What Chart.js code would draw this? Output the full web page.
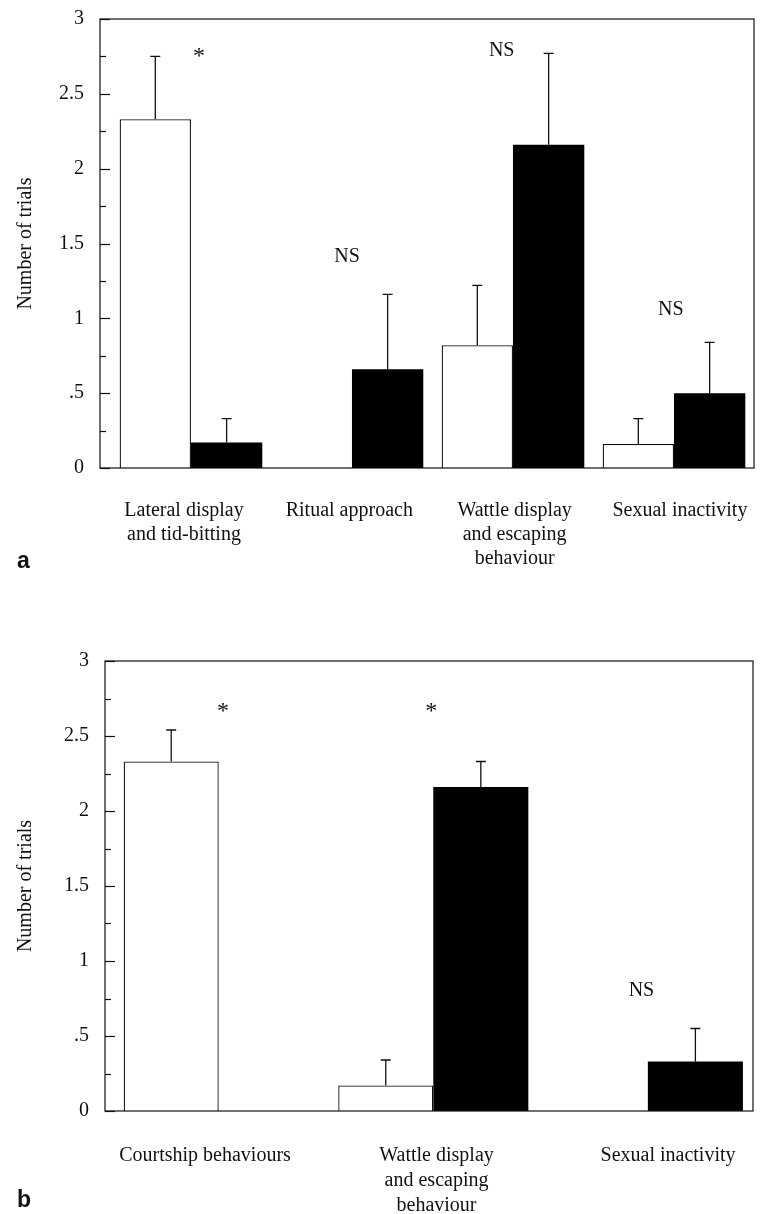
<!DOCTYPE html>
<html>
<head>
<meta charset="utf-8">
<script src="https://cdn.jsdelivr.net/npm/chart.js@4"></script>
<style>
  html, body { margin: 0; padding: 0; background: #fff; }
  #wrap { position: relative; width: 764px; height: 1214px; }
  canvas { position: absolute; left: 0; }
</style>
</head>
<body>
<div id="wrap">
  <canvas id="chartA" width="764" height="580" style="top:0"></canvas>
  <canvas id="chartB" width="764" height="634" style="top:580px"></canvas>
</div>
<script>
// y axis tick labels (every 0.5)
var yTickLabels = ['0', '.5', '1', '1.5', '2', '2.5', '3'];

// panel a
var labelsA = [['Lateral display', 'and tid-bitting'], 'Ritual approach', ['Wattle display', 'and escaping', 'behaviour'], 'Sexual inactivity'];
var whiteA = [2.33, 0, 0.82, 0.16];
var whiteErrA = [0.42, null, 0.40, 0.17];
var blackA = [0.17, 0.66, 2.16, 0.50];
var blackErrA = [0.16, 0.50, 0.61, 0.34];
var marksA = ['*', 'NS', 'NS', 'NS'];
var markXA = [0.05, 0.97, 1.93, 2.98];
var markYA = [2.77, 1.41, 2.79, 1.06];

// panel b
var labelsB = ['Courtship behaviours', ['Wattle display', 'and escaping', 'behaviour'], 'Sexual inactivity'];
var whiteB = [2.33, 0.17, 0];
var whiteErrB = [0.21, 0.17, null];
var blackB = [0, 2.16, 0.33];
var blackErrB = [null, 0.17, 0.22];
var marksB = ['*', '*', 'NS'];
var markXB = [0.02, 0.99, 1.97];
var markYB = [2.68, 2.68, 0.80];

var serif = '"Liberation Serif", "Times New Roman", serif';
var ink = '#111';

function isStep(v, step) {
  return Math.abs(v / step - Math.round(v / step)) < 1e-6;
}

// one tick per category, so bars and labels sit on whole numbers
function categoryTicks(n) {
  return function(s) {
    var t = [];
    for (var i = 0; i < n; i++) t.push({ value: i });
    s.ticks = t;
  };
}

var decor = {
  id: 'decor',
  afterDatasetsDraw: function(chart, args, opts) {
    var ctx = chart.ctx;
    var area = chart.chartArea;
    var y = chart.scales.y;
    var x = chart.scales.x;
    ctx.save();
    ctx.strokeStyle = ink;
    ctx.lineWidth = 1.3;

    // upper error bars
    chart.data.datasets.forEach(function(ds, di) {
      var meta = chart.getDatasetMeta(di);
      ds.errors.forEach(function(e, i) {
        if (e == null) return;
        var bar = meta.data[i];
        var top = y.getPixelForValue(ds.data[i].y + e);
        ctx.beginPath();
        ctx.moveTo(bar.x, bar.y);
        ctx.lineTo(bar.x, top);
        ctx.moveTo(bar.x - 5, top);
        ctx.lineTo(bar.x + 5, top);
        ctx.stroke();
      });
    });

    // frame
    ctx.lineWidth = 1.2;
    ctx.strokeRect(area.left, area.top, area.right - area.left, area.bottom - area.top);

    // inward ticks on the y axis
    y.ticks.forEach(function(t) {
      var py = Math.round(y.getPixelForValue(t.value)) + 0.5;
      var len = isStep(t.value, 0.5) ? 10 : 6;
      ctx.beginPath();
      ctx.moveTo(area.left, py);
      ctx.lineTo(area.left + len, py);
      ctx.stroke();
    });

    // significance marks
    ctx.fillStyle = ink;
    ctx.textAlign = 'center';
    ctx.textBaseline = 'middle';
    opts.marks.forEach(function(m, i) {
      ctx.font = (m === '*' ? '24px ' : '20px ') + serif;
      var py = y.getPixelForValue(opts.markY[i]) + (m === '*' ? 3 : 0);
      ctx.fillText(m, x.getPixelForValue(opts.markX[i]), py);
    });

    // panel letter
    ctx.font = 'bold 23px "Liberation Sans", Arial, sans-serif';
    ctx.textAlign = 'left';
    ctx.textBaseline = 'alphabetic';
    ctx.fillText(opts.letter, 17, opts.letterY);
    ctx.restore();
  }
};

function buildChart(id, p) {
  function points(vals) {
    return vals.map(function(v, i) { return { x: i, y: v }; });
  }
  return new Chart(document.getElementById(id), {
    type: 'bar',
    data: {
      datasets: [
        {
          label: 'white',
          data: points(p.white),
          errors: p.whiteErr,
          backgroundColor: '#fff',
          borderColor: ink,
          borderWidth: 1.3,
          borderSkipped: 'start'
        },
        {
          label: 'black',
          data: points(p.black),
          errors: p.blackErr,
          backgroundColor: '#000',
          borderWidth: 0
        }
      ]
    },
    options: {
      responsive: false,
      animation: false,
      devicePixelRatio: 1,
      layout: { padding: p.pad },
      datasets: { bar: { categoryPercentage: 0.886, barPercentage: 1 } },
      plugins: {
        legend: { display: false },
        tooltip: { enabled: false },
        decor: { marks: p.marks, markX: p.markX, markY: p.markY, letter: p.letter, letterY: p.letterY }
      },
      scales: {
        x: {
          type: 'linear',
          display: false,
          offset: false,
          grid: { offset: false },
          min: p.barMin,
          max: p.barMax,
          afterBuildTicks: categoryTicks(p.labels.length)
        },
        xl: {
          type: 'linear',
          position: 'bottom',
          offset: false,
          min: p.labelMin,
          max: p.labelMax,
          grid: { display: false, drawTicks: false },
          border: { display: false },
          afterBuildTicks: categoryTicks(p.labels.length),
          ticks: {
            autoSkip: false,
            maxRotation: 0,
            padding: p.labelPad,
            color: ink,
            font: { family: serif, size: 20, lineHeight: p.lineH },
            callback: function(v) {
              return p.labels[Math.round(v)];
            }
          },
          afterFit: function(s) {
            s.height = p.xlHeight;
            s.paddingLeft = 0;
            s.paddingRight = 0;
          }
        },
        y: {
          min: 0,
          max: 3,
          grid: { display: false, drawTicks: false },
          border: { display: false },
          ticks: {
            stepSize: 0.25,
            autoSkip: false,
            padding: 16,
            color: ink,
            font: { family: serif, size: 20 },
            callback: function(v) {
              return isStep(v, 0.5) ? yTickLabels[Math.round(v * 2)] : '';
            }
          },
          title: {
            display: true,
            text: 'Number of trials',
            color: ink,
            font: { family: serif, size: 20 },
            padding: { top: 14, bottom: 0 }
          },
          afterFit: function(s) {
            s.width = p.yWidth;
            s.paddingTop = 0;
            s.paddingBottom = 0;
          }
        }
      }
    },
    plugins: [decor]
  });
}

buildChart('chartA', {
  labels: labelsA, white: whiteA, whiteErr: whiteErrA, black: blackA, blackErr: blackErrA,
  marks: marksA, markX: markXA, markY: markYA, letter: 'a', letterY: 568,
  pad: { top: 19, right: 10, left: 0, bottom: 0 },
  yWidth: 100, xlHeight: 112, labelPad: 31, lineH: 1.2,
  barMin: -0.565, barMax: 3.497, labelMin: -0.508, labelMax: 3.448
});

buildChart('chartB', {
  labels: labelsB, white: whiteB, whiteErr: whiteErrB, black: blackB, blackErr: blackErrB,
  marks: marksB, markX: markXB, markY: markYB, letter: 'b', letterY: 627,
  pad: { top: 81, right: 11, left: 0, bottom: 0 },
  yWidth: 105, xlHeight: 103, labelPad: 32, lineH: 1.25,
  barMin: -0.53, barMax: 2.49, labelMin: -0.432, labelMax: 2.367
});
</script>
</body>
</html>
